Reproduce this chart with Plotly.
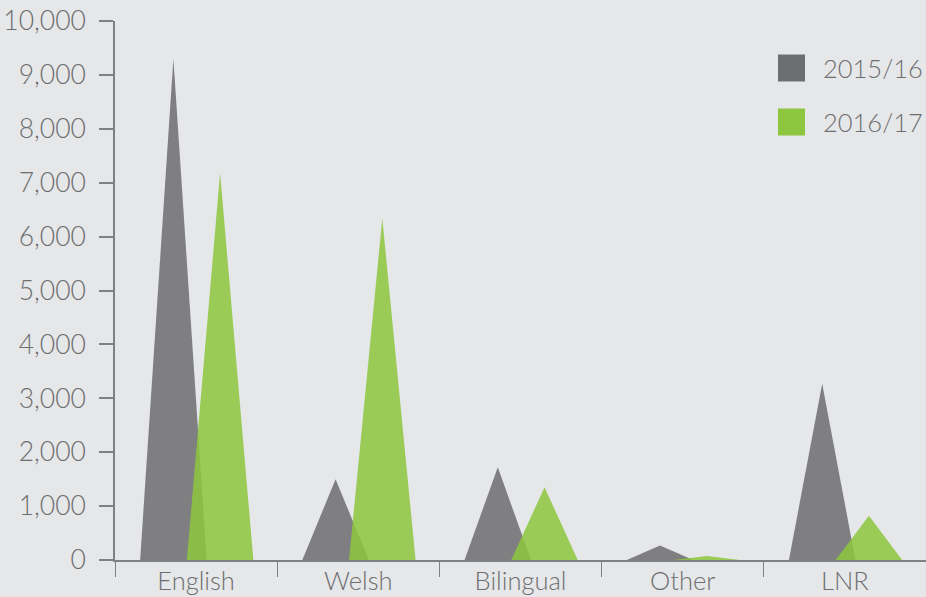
import plotly.graph_objects as go

categories = ["English", "Welsh", "Bilingual", "Other", "LNR"]
series_names = ["2015/16", "2016/17"]
values_2015_16 = [9300, 1500, 1720, 270, 3270]
values_2016_17 = [7180, 6340, 1350, 75, 820]
y_tick_values = [0, 1000, 2000, 3000, 4000, 5000, 6000, 7000, 8000, 9000, 10000]

BG = "#e6e7e8"
TEXT = "#6d6e70"
AXIS = "#7f8082"
colors = ["#6d6e71", "#8dc63f"]
offsets = [-0.14, 0.148]
half_w = 0.205

W, H = 926, 597
ML, MR, MT, MB = 115, 0, 21, 37
FONT = "Lato"
FW = 300

fig = go.Figure()
for s, (name, vals) in enumerate(zip(series_names, [values_2015_16, values_2016_17])):
    for i, v in enumerate(vals):
        c = i + offsets[s]
        fig.add_trace(go.Scatter(
            x=[c - half_w, c, c + half_w, c - half_w],
            y=[0, v, 0, 0],
            mode="lines", fill="toself", fillcolor=colors[s],
            line=dict(width=0, color=colors[s]), opacity=0.86,
            name=name, showlegend=False, hoverinfo="skip",
        ))

# invisible trace for label axis
fig.add_trace(go.Scatter(x=list(range(len(categories))), y=[0]*len(categories),
                         xaxis="x2", mode="markers", marker=dict(opacity=0),
                         showlegend=False, hoverinfo="skip"))

xr = [-0.5, len(categories) - 0.5]
fig.update_layout(
    width=W, height=H, paper_bgcolor=BG, plot_bgcolor=BG,
    margin=dict(l=ML, r=MR, t=MT, b=MB, autoexpand=False),
    font=dict(family=FONT, color=TEXT, size=25, weight=FW),
    showlegend=False,
    xaxis=dict(range=xr, tickvals=[i - 0.5 for i in range(len(categories) + 1)],
               ticktext=[""] * (len(categories) + 1), ticks="outside", ticklen=15,
               tickcolor=AXIS, tickwidth=1, showline=True, linecolor=AXIS, linewidth=1.5,
               showgrid=False, zeroline=False, fixedrange=True, automargin=False),
    xaxis2=dict(range=xr, overlaying="x", side="bottom", anchor="y",
                tickvals=list(range(len(categories))), ticktext=categories,
                ticks="", showline=False, showgrid=False, zeroline=False,
                fixedrange=True, automargin=False, ticklabelstandoff=3,
                tickfont=dict(size=25.5, color=TEXT, family=FONT, weight=FW)),
    yaxis=dict(range=[0, 10000], tickvals=y_tick_values,
               ticktext=[f"{v:,}" for v in y_tick_values],
               ticks="outside", ticklen=14, tickcolor=AXIS, tickwidth=1.5,
               showline=True, linecolor=AXIS, linewidth=1.5, showgrid=False,
               zeroline=False, fixedrange=True, automargin=False,
               tickfont=dict(size=26.5, color=TEXT, family=FONT, weight=FW),
               ticklabelstandoff=8),
)

# manual legend
pw = W - ML - MR
ph = H - MT - MB
def px(x):
    return (x - ML) / pw
def py(y):
    return (H - MB - y) / ph

legend_rows = [68, 122]
for name, col, yc in zip(series_names, ["#6d6e70", "#8dc63f"], legend_rows):
    fig.add_shape(type="rect", xref="paper", yref="paper",
                  x0=px(778), x1=px(805), y0=py(yc + 13.5), y1=py(yc - 13.5),
                  fillcolor=col, line=dict(width=0))
    fig.add_annotation(xref="paper", yref="paper", x=px(821), y=py(yc),
                       text=name, showarrow=False, xanchor="left", yanchor="middle",
                       font=dict(size=25.5, color=TEXT, family=FONT, weight=FW))

fig.write_html("out.html", config={"displayModeBar": False},
               post_script="document.body.style.margin='0';document.body.style.overflow='hidden';")
